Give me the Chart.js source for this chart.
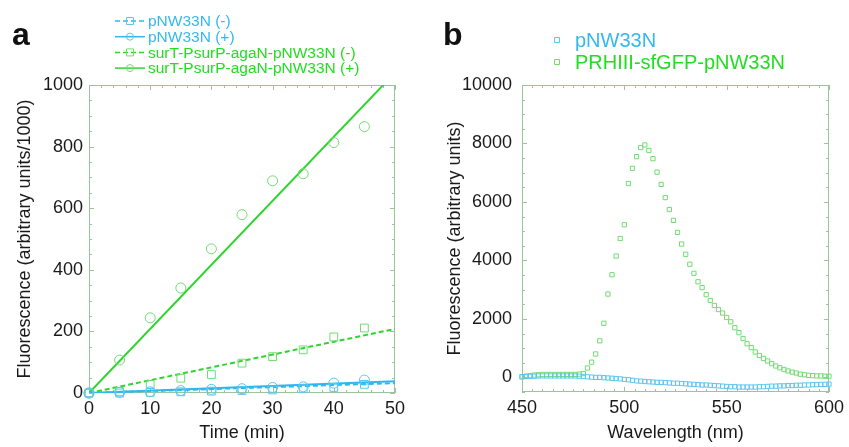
<!DOCTYPE html>
<html>
<head>
<meta charset="utf-8">
<script src="https://cdn.jsdelivr.net/npm/chart.js@4.4.0/dist/chart.umd.min.js"></script>
<style>
  html, body { margin: 0; padding: 0; background: #fff; }
  #wrap { position: relative; width: 849px; height: 447px; }
  canvas { position: absolute; top: 0; }
  #chartA { left: 0; }
  #chartB { left: 424px; }
</style>
</head>
<body>
<div id="wrap">
  <canvas id="chartA" width="424" height="447"></canvas>
  <canvas id="chartB" width="425" height="447"></canvas>
</div>
<script>
// ---------- panel a : fluorescence vs time ----------
const timeMin   = [0, 5, 10, 15, 20, 25, 30, 35, 40, 45];
const ctrlMinus = [0, 0, 2, 4, 6, 8, 10, 14, 18, 28];       // pNW33N (-)
const ctrlPlus  = [0, 2, 4, 8, 12, 14, 18, 20, 32, 42];     // pNW33N (+)
const agaMinus  = [0, 5, 28, 48, 60, 97, 118, 140, 182, 211];
const agaPlus   = [0, 107, 244, 341, 468, 579, 689, 712, 813, 865];

const fitTime      = [0, 50];
const ctrlMinusFit = [0, 32];
const ctrlPlusFit  = [0, 38];
const agaMinusFit  = [0, 208];
const agaPlusFit   = [0, 1040];

const legendA = ["pNW33N (-)", "pNW33N (+)", "surT-PsurP-agaN-pNW33N (-)", "surT-PsurP-agaN-pNW33N (+)"];
const timeTicks  = [0, 10, 20, 30, 40, 50];
const fluoTicksA = [0, 200, 400, 600, 800, 1000];

// ---------- panel b : emission spectra ----------
const wavelength = [450, 452, 454, 456, 458, 460, 462, 464, 466, 468,
                    470, 472, 474, 476, 478, 480, 482, 484, 486, 488,
                    490, 492, 494, 496, 498, 500, 502, 504, 506, 508,
                    510, 512, 514, 516, 518, 520, 522, 524, 526, 528,
                    530, 532, 534, 536, 538, 540, 542, 544, 546, 548,
                    550, 552, 554, 556, 558, 560, 562, 564, 566, 568,
                    570, 572, 574, 576, 578, 580, 582, 584, 586, 588,
                    590, 592, 594, 596, 598, 600];
const emptyVector = [20, 30, 40, 40, 50, 50, 50, 50, 50, 50,
                     50, 50, 50, 50, 40, 30, 20, 10, 0, 0,
                     -10, -20, -30, -40, -50, -70, -80, -100, -120, -130,
                     -140, -150, -160, -170, -170, -180, -190, -200, -200, -210,
                     -220, -230, -240, -250, -260, -260, -270, -280, -290, -300,
                     -310, -320, -320, -330, -330, -330, -330, -330, -320, -320,
                     -310, -300, -300, -290, -290, -280, -280, -270, -270, -260,
                     -260, -250, -250, -240, -240, -230];
const gfpVector = [20, 40, 60, 80, 90, 100, 100, 100, 100, 100,
                   100, 100, 100, 100, 110, 130, 320, 520, 800, 1250,
                   1850, 2850, 3510, 4150, 4750, 5220, 6630, 7150, 7550, 7860,
                   7950, 7760, 7480, 7020, 6600, 6150, 5740, 5370, 4960, 4560,
                   4210, 3870, 3560, 3270, 3070, 2830, 2630, 2460, 2320, 2200,
                   2050, 1900, 1700, 1530, 1330, 1150, 1020, 870, 750, 650,
                   560, 470, 390, 330, 270, 220, 180, 150, 110, 90,
                   70, 60, 50, 50, 40, 40];

const legendB = ["pNW33N", "PRHIII-sfGFP-pNW33N"];
const wlTicks    = [450, 500, 550, 600];
const fluoTicksB = [0, 2000, 4000, 6000, 8000, 10000];

// ---------- styling ----------
const BLUE = "#2db8ee", BLUE_PT = "#5cc6f0";
const GREEN = "#2fd52f", GREEN_PT = "#72dc72";
const FRAME = "#9cc49c";
const FONT = "Liberation Sans, Arial, Helvetica, sans-serif";

function xy(xs, ys) {
    return xs.map((x, i) => ({ x: x, y: ys[i] }));
}

function markers(label, xs, ys, color, style, r) {
    return { label, data: xy(xs, ys), showLine: false, borderColor: color, backgroundColor: "rgba(0,0,0,0)",
             pointStyle: style, pointRadius: r, pointBorderWidth: 1, clip: false };
}

function fitLine(xs, ys, color, dash) {
    return { data: xy(xs, ys), showLine: true, borderColor: color, borderWidth: 2, borderDash: dash,
             pointRadius: 0, fill: false };
}

// frame with inward major/minor ticks on all sides
const framePlugin = {
    id: "frame",
    beforeDatasetsDraw(chart, args, o) {
        const { ctx, chartArea: a } = chart;
        const sx = chart.scales.x, sy = chart.scales.y;
        ctx.save();
        ctx.strokeStyle = FRAME;
        ctx.lineWidth = 1;
        ctx.strokeRect(a.left + 0.5, a.top + 0.5, a.right - a.left - 1, a.bottom - a.top - 1);
        ctx.beginPath();
        for (let v = o.xFrom; v <= sx.max + 1e-6; v += o.xMinor) {
            const p = Math.round(sx.getPixelForValue(v)) + 0.5;
            const len = o.xMajor.includes(v) ? 5 : 3;
            ctx.moveTo(p, a.bottom); ctx.lineTo(p, a.bottom - len);
            ctx.moveTo(p, a.top); ctx.lineTo(p, a.top + len);
        }
        for (let v = o.yFrom; v <= sy.max + 1e-6; v += o.yMinor) {
            const p = Math.round(sy.getPixelForValue(v)) + 0.5;
            const len = o.yMajor.includes(v) ? 5 : 3;
            ctx.moveTo(a.left, p); ctx.lineTo(a.left + len, p);
            ctx.moveTo(a.right, p); ctx.lineTo(a.right - len, p);
        }
        ctx.stroke();
        ctx.restore();
    }
};

// legend rows with line sample + marker, and the panel letter
const notePlugin = {
    id: "note",
    afterDraw(chart, args, o) {
        const ctx = chart.ctx;
        ctx.save();
        ctx.fillStyle = "#111";
        ctx.font = "bold 32px " + FONT;
        ctx.textBaseline = "alphabetic";
        ctx.fillText(o.letter, o.letterX, 45);
        ctx.font = o.fontSize + "px " + FONT;
        ctx.textBaseline = "middle";
        o.rows.forEach((row, i) => {
            const ds = chart.data.datasets[row.ds];
            const fit = row.fit != null ? chart.data.datasets[row.fit] : null;
            const y = o.y0 + i * o.dy;
            if (fit) {
                ctx.strokeStyle = fit.borderColor;
                ctx.lineWidth = 1.5;
                ctx.setLineDash(fit.borderDash || []);
                ctx.beginPath();
                ctx.moveTo(o.x0, y); ctx.lineTo(o.x0 + o.lineLen, y);
                ctx.stroke();
                ctx.setLineDash([]);
            }
            const cx = o.x0 + o.lineLen / 2;
            ctx.strokeStyle = ds.borderColor;
            ctx.lineWidth = 1;
            ctx.beginPath();
            const r = o.markR;
            if (ds.pointStyle === "circle") ctx.arc(cx, y, r, 0, Math.PI * 2);
            else ctx.rect(cx - r, y - r, 2 * r, 2 * r);
            ctx.stroke();
            ctx.fillStyle = row.color;
            ctx.fillText(ds.label, o.textX, y + 1);
        });
        ctx.restore();
    }
};

function axis(min, max, ticks, title, tPad, labelPad, size) {
    return {
        type: "linear", min, max,
        afterBuildTicks: s => { s.ticks = ticks.map(v => ({ value: v })); },
        afterFit: s => { if (s.isHorizontal()) s.height = size; else s.width = size; },
        grid: { display: false, drawTicks: false },
        border: { display: false },
        ticks: { color: "#1a1a1a", font: { family: FONT, size: 18 }, padding: labelPad, maxRotation: 0,
                 callback: v => String(v) },
        title: { display: true, text: title, color: "#1a1a1a", font: { family: FONT, size: 18 }, padding: tPad }
    };
}

// ---------- chart a ----------
new Chart(document.getElementById("chartA"), {
    type: "scatter",
    data: {
        datasets: [
            markers(legendA[0], timeMin, ctrlMinus, BLUE_PT, "rect", 5.5),
            markers(legendA[1], timeMin, ctrlPlus, BLUE_PT, "circle", 5),
            markers(legendA[2], timeMin, agaMinus, GREEN_PT, "rect", 5.5),
            markers(legendA[3], timeMin, agaPlus, GREEN_PT, "circle", 5),
            fitLine(fitTime, ctrlMinusFit, BLUE, [5, 3]),
            fitLine(fitTime, ctrlPlusFit, BLUE, []),
            fitLine(fitTime, agaMinusFit, GREEN, [5, 3]),
            fitLine(fitTime, agaPlusFit, GREEN, [])
        ]
    },
    options: {
        responsive: false, animation: false, devicePixelRatio: 1,
        layout: { padding: { top: 85, right: 29, left: 0, bottom: 0 } },
        plugins: {
            legend: { display: false }, tooltip: { enabled: false },
            frame: { xFrom: 0, xMinor: 2, xMajor: timeTicks, yFrom: 0, yMinor: 50, yMajor: fluoTicksA },
            note: {
                letter: "a", letterX: 12, fontSize: 15.5, x0: 115, lineLen: 30, textX: 148, y0: 21, dy: 15.7, markR: 3.5,
                rows: [ { ds: 0, fit: 4, color: "#33b9ee" }, { ds: 1, fit: 5, color: "#33b9ee" },
                        { ds: 2, fit: 6, color: "#22dd22" }, { ds: 3, fit: 7, color: "#22dd22" } ]
            }
        },
        scales: {
            x: axis(0, 50, timeTicks, "Time (min)", { top: 0, bottom: 3 }, 5, 54),
            y: axis(0, 1000, fluoTicksA, "Fluorescence (arbitrary units/1000)", { top: 14, bottom: 0 }, 6, 89)
        }
    },
    plugins: [framePlugin, notePlugin]
});

// ---------- chart b ----------
new Chart(document.getElementById("chartB"), {
    type: "scatter",
    data: {
        datasets: [
            markers(legendB[0], wavelength, emptyVector, BLUE_PT, "rect", 3),
            markers(legendB[1], wavelength, gfpVector, GREEN_PT, "rect", 3)
        ]
    },
    options: {
        responsive: false, animation: false, devicePixelRatio: 1,
        layout: { padding: { top: 85, right: 18, left: 0, bottom: 0 } },
        plugins: {
            legend: { display: false }, tooltip: { enabled: false },
            frame: { xFrom: 450, xMinor: 5, xMajor: wlTicks, yFrom: -500, yMinor: 500, yMajor: fluoTicksB },
            note: {
                letter: "b", letterX: 19, fontSize: 20, x0: 129, lineLen: 8, textX: 151, y0: 40, dy: 22, markR: 2.5,
                rows: [ { ds: 0, fit: null, color: "#33b9ee" }, { ds: 1, fit: null, color: "#22dd22" } ]
            }
        },
        scales: {
            x: axis(450, 600, wlTicks, "Wavelength (nm)", { top: 0, bottom: 3 }, 5, 55),
            y: axis(-500, 10000, fluoTicksB, "Fluorescence (arbitrary units)", { top: 20, bottom: 0 }, 10, 98)
        }
    },
    plugins: [framePlugin, notePlugin]
});
</script>
</body>
</html>
